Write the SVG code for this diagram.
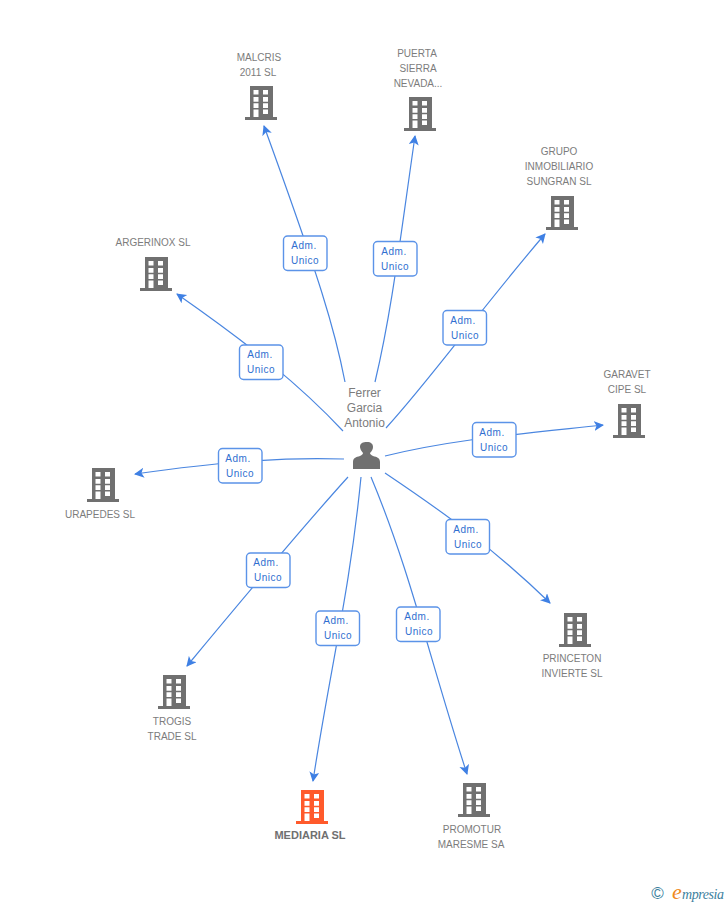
<svg xmlns="http://www.w3.org/2000/svg" width="728" height="905" viewBox="0 0 728 905">
<style>
text{font-family:"Liberation Sans",Arial,sans-serif;font-size:10px;fill:#7c7c7c;text-anchor:middle}
.e{fill:none;stroke:#4a86e0;stroke-width:1.2;marker-end:url(#a)}
.b{fill:#fff;stroke:#5b93e8;stroke-width:1.4}
.l{fill:#2f6fd0;letter-spacing:.5px}
.n{font-size:12px}
</style>
<defs>
<marker id="a" markerUnits="userSpaceOnUse" markerWidth="11" markerHeight="11" refX="9" refY="5" orient="auto"><path d="M0 0L10 5L0 10L2.500 5Z" fill="#3f80e4"/></marker>
<g id="bld"><path fill-rule="evenodd" d="M0 0H23V31H27V34H-5V31H0ZM3.500 4V8.500H8.500V4ZM13 4V8.500H18V4ZM3.500 11V15.700H8.500V11ZM13 11V15.700H18V11ZM3.500 17.300V22H8.500V17.300ZM13 17.300V22H18V17.300ZM3.500 23.500V31H8.500V23.500ZM13 23.500V28H18V23.500Z"/></g>
</defs>
<g id="connectors">
<path class="e" d="M345 382C335 330 320 280 264 126"/>
<path class="e" d="M375 382C392 310 400 240 415 136"/>
<path class="e" d="M386 428C430 380 480 310 545 234"/>
<path class="e" d="M343 431C300 385 250 345 177 294"/>
<path class="e" d="M385 456C450 440 510 435 603 425"/>
<path class="e" d="M344 459C280 457 220 462 135 474"/>
<path class="e" d="M348 477C300 530 250 590 187 666"/>
<path class="e" d="M361 477C350 590 330 670 313 781"/>
<path class="e" d="M371 477C410 570 430 660 467 774"/>
<path class="e" d="M385 473C440 510 490 545 550 603"/>
</g>
<g id="lbl1"><rect class="b" x="283.500" y="236" width="43.500" height="34.500" rx="4"/><text class="l" x="304" y="249">Adm.</text><text class="l" x="305" y="264">Unico</text></g>
<g id="lbl2"><rect class="b" x="373.500" y="241.500" width="43.500" height="34.500" rx="4"/><text class="l" x="394" y="255">Adm.</text><text class="l" x="395" y="270">Unico</text></g>
<g id="lbl3"><rect class="b" x="443" y="310.500" width="43.500" height="34.500" rx="4"/><text class="l" x="463" y="324">Adm.</text><text class="l" x="465" y="339">Unico</text></g>
<g id="lbl4"><rect class="b" x="239.500" y="345" width="43.500" height="34.500" rx="4"/><text class="l" x="260" y="358">Adm.</text><text class="l" x="261" y="373">Unico</text></g>
<g id="lbl5"><rect class="b" x="472.500" y="422.500" width="43.500" height="34.500" rx="4"/><text class="l" x="492" y="436">Adm.</text><text class="l" x="494" y="451">Unico</text></g>
<g id="lbl6"><rect class="b" x="218.500" y="448.500" width="43.500" height="34.500" rx="4"/><text class="l" x="238" y="462">Adm.</text><text class="l" x="240" y="477">Unico</text></g>
<g id="lbl7"><rect class="b" x="246.500" y="553" width="43.500" height="34.500" rx="4"/><text class="l" x="266" y="566">Adm.</text><text class="l" x="268" y="581">Unico</text></g>
<g id="lbl8"><rect class="b" x="316" y="611" width="43.500" height="34.500" rx="4"/><text class="l" x="336" y="624">Adm.</text><text class="l" x="338" y="639">Unico</text></g>
<g id="lbl9"><rect class="b" x="396.500" y="607" width="43.500" height="34.500" rx="4"/><text class="l" x="417" y="620">Adm.</text><text class="l" x="419" y="635">Unico</text></g>
<g id="lbl10"><rect class="b" x="446" y="519.500" width="43.500" height="34.500" rx="4"/><text class="l" x="466" y="533">Adm.</text><text class="l" x="468" y="548">Unico</text></g>
<g id="person"><text class="n" x="364.500" y="397">Ferrer</text><text class="n" x="364.500" y="412">Garcia</text><text class="n" x="364.500" y="427">Antonio</text>
<path fill="#707070" d="M353 469V462C353 458 356 457 360 456C362 455 363 454 363 453C361 451 360 448 360 447C360 443 363 442 367 442C371 442 373 444 373 447C373 449 372 451 370 453C370 454 371 455 373 456C377 457 380 458 380 462V469Z"/></g>
<g id="n1" fill="#707070"><use href="#bld" x="250" y="86"/><text x="259" y="61">MALCRIS</text><text x="258" y="76">2011 SL</text></g>
<g id="n2" fill="#707070"><use href="#bld" x="409" y="97"/><text x="417" y="57">PUERTA</text><text x="418" y="72">SIERRA</text><text x="418" y="87">NEVADA...</text></g>
<g id="n3" fill="#707070"><use href="#bld" x="551" y="196"/><text x="559" y="155">GRUPO</text><text x="559" y="170">INMOBILIARIO</text><text x="559" y="185">SUNGRAN SL</text></g>
<g id="n4" fill="#707070"><use href="#bld" x="145" y="257"/><text x="153" y="246">ARGERINOX SL</text></g>
<g id="n5" fill="#707070"><use href="#bld" x="618" y="404"/><text x="627" y="378">GARAVET</text><text x="627" y="393">CIPE SL</text></g>
<g id="n6" fill="#707070"><use href="#bld" x="92" y="468"/><text x="100" y="518">URAPEDES SL</text></g>
<g id="n7" fill="#707070"><use href="#bld" x="163" y="675"/><text x="172" y="725">TROGIS</text><text x="172" y="740">TRADE SL</text></g>
<g id="n8" fill="#ff5a2b"><use href="#bld" x="301" y="790"/><text x="310" y="839" style="font-weight:bold;font-size:11px;fill:#707070">MEDIARIA SL</text></g>
<g id="n9" fill="#707070"><use href="#bld" x="463" y="783"/><text x="472" y="833">PROMOTUR</text><text x="471" y="848">MARESME SA</text></g>
<g id="n10" fill="#707070"><use href="#bld" x="564" y="613"/><text x="572" y="662">PRINCETON</text><text x="572" y="677">INVIERTE SL</text></g>
<g id="logo"><text x="657.500" y="899" style="font-size:17px;fill:#3d7f9e">©</text><text x="677" y="899" style="font-family:'Liberation Serif',serif;font-style:italic;font-size:22px;fill:#f08a1d">e</text><text x="703" y="899" textLength="42" style="font-family:'Liberation Serif',serif;font-style:italic;font-size:14px;fill:#3d7f9e">mpresia</text></g>
</svg>
